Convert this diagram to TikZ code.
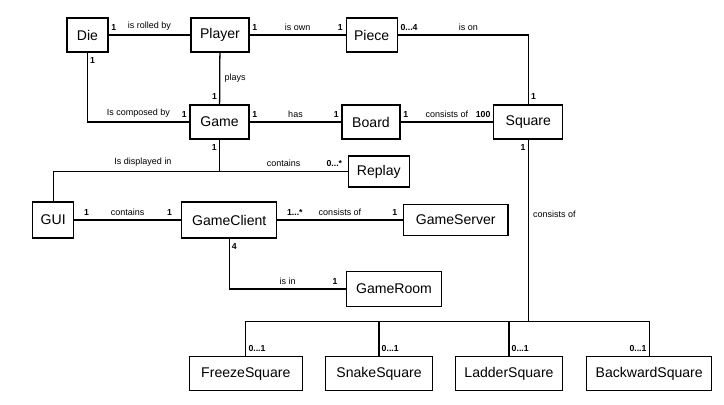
\documentclass[tikz,border=0pt]{standalone}
\usepackage{fontspec}
\setmainfont{Liberation Sans}
\usetikzlibrary{positioning}
\tikzset{
	cls/.style={draw, line width=0.9pt, fill=white, font=\fontsize{10}{12}\selectfont, minimum height=0.85cm, inner sep=2pt},
	lbl/.style={font=\fontsize{6.4}{7}\selectfont, inner sep=3pt},
	mult/.style={font=\fontsize{6.2}{7}\selectfont\bfseries, inner xsep=1.5pt, inner ysep=3pt},
	assoc/.style={line width=0.9pt}
}
\begin{document}
\begin{tikzpicture}[x=0.025cm,y=-0.025cm]
			\useasboundingbox (0,0) rectangle (724,404);
			
			% Classes
			\node[cls, minimum width=1.025cm] (die) at (87.5,35) {Die};
			\node[cls, minimum width=1.45cm] (player) at (220,35) {Player};
			\node[cls, minimum width=1.275cm] (piece) at (371.7,35) {Piece};
			\node[cls, minimum width=1.475cm] (game) at (219.5,122) {Game};
			\node[cls, minimum width=1.45cm] (board) at (371,122) {Board};
			\node[cls, minimum width=1.725cm] (square) at (528.3,122) {Square};
			\node[cls, minimum width=1.525cm, minimum height=0.775cm] (replay) at (378.8,171.5) {Replay};
			\node[cls, minimum width=1.025cm, minimum height=0.9cm] (gui) at (53.2,220) {GUI};
			\node[cls, minimum width=2.375cm, minimum height=0.9cm] (client) at (229.2,220) {GameClient};
			\node[cls, minimum width=2.62cm, minimum height=0.775cm] (server) at (455.7,220) {GameServer};
			\node[cls, minimum width=2.37cm, minimum height=0.875cm] (room) at (394,289) {GameRoom};
			
			% Kinds of squares
			\node[cls, minimum width=2.825cm] (freeze) at (245.8,373.7) {FreezeSquare};
			\node[cls, minimum width=2.667cm] (snake) at (379,373.7) {SnakeSquare};
			\node[cls, minimum width=2.667cm] (ladder) at (509,373.7) {LadderSquare};
			\node[cls, minimum width=3.125cm] (backward) at (649.2,373.7) {BackwardSquare};
			
			\coordinate (gamejoin) at (game |- replay);
			\coordinate (sqjoin) at (528.3,321.7);
			
			% Associations
			\draw[assoc] (die) -- node[lbl, above] {is rolled by} node[mult, pos=0, above right] {1} (player);
			\draw[assoc] (player) -- node[lbl, above] {is own} node[mult, pos=0, above right] {1} node[mult, pos=1, above left] {1} (piece);
			\draw[assoc] (piece) -| node[lbl, pos=0.27, above] {is on} node[mult, pos=0, above right] {0...4} node[mult, pos=1, above right] {1} (square);
			\draw[assoc] (player) -- node[lbl, right] {plays} node[mult, pos=1, above left] {1} (game);
			\draw[assoc] (die) |- node[lbl, pos=0.75, above] {Is composed by} node[mult, pos=0, below right] {1} node[mult, pos=1, above left] {1} (game);
			\draw[assoc] (game) -- node[lbl, above] {has} node[mult, pos=0, above right] {1} node[mult, pos=1, above left] {1} (board);
			\draw[assoc] (board) -- node[lbl, above] {consists of} node[mult, pos=0, above right] {1} node[mult, pos=1, above left] {100} (square);
			\draw[assoc] (game) -- node[mult, pos=0, below left] {1} (gamejoin);
			\draw[assoc] (gamejoin) -| node[lbl, pos=0.23, above] {Is displayed in} (gui);
			\draw[assoc] (gamejoin) -- node[lbl, above] {contains} node[mult, pos=1, above left, xshift=-2pt] {0...*} (replay);
			\draw[assoc] (gui) -- node[lbl, above] {contains} node[mult, pos=0, above right, xshift=5pt] {1} node[mult, pos=1, above left, xshift=-4.5pt] {1} (client);
			\draw[assoc] (client) -- node[lbl, above] {consists of} node[mult, pos=0, above right, xshift=5pt] {1...*} node[mult, pos=1, above left, xshift=-2pt] {1} (server);
			\draw[assoc] (client) |- node[lbl, pos=0.75, above] {is in} node[mult, pos=0, below right] {4} node[mult, pos=1, above left, xshift=-4pt] {1} (room);
			\draw[assoc] (square) -- node[lbl, pos=0.41, right] {consists of} node[mult, pos=0, below left] {1} (sqjoin);
			\draw[assoc] (freeze) |- node[mult, pos=0, above right] {0...1} (backward |- sqjoin) -- node[mult, pos=1, above left] {0...1} (backward);
			\draw[assoc] (snake |- sqjoin) -- node[mult, pos=1, above right] {0...1} (snake);
			\draw[assoc] (ladder |- sqjoin) -- node[mult, pos=1, above right] {0...1} (ladder);
\end{tikzpicture}
\end{document}
